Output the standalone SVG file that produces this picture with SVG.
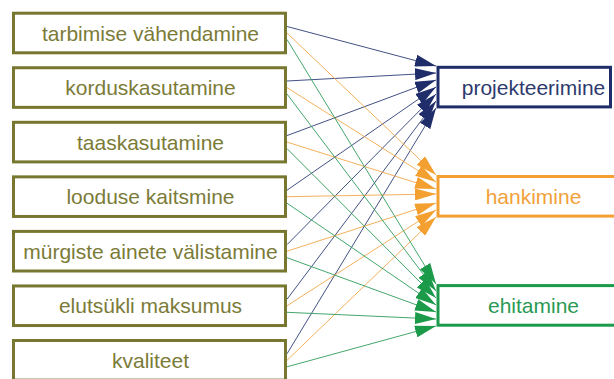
<svg xmlns="http://www.w3.org/2000/svg" width="614" height="379" viewBox="0 0 614 379">
  <style>
    .src rect { fill: #ffffff; stroke: #77772f; stroke-width: 3; }
    .src text { fill: #7b7b38; }
    text { font-family: "Liberation Sans", Arial, sans-serif; font-size: 21px; text-anchor: middle; }
    #projekteerimine rect { fill: #ffffff; stroke: #1f2d6b; stroke-width: 3; }
    #projekteerimine text { fill: #2e3a6e; }
    #hankimine rect { fill: #ffffff; stroke: #f4a030; stroke-width: 3; }
    #hankimine text { fill: #f2a13a; }
    #ehitamine rect { fill: #ffffff; stroke: #1b9a4a; stroke-width: 3; }
    #ehitamine text { fill: #2a9a55; }
    .c-navy { stroke: #2f3d76; stroke-width: 0.9; fill: none; marker-end: url(#ah-navy); }
    .c-orange { stroke: #f2a84c; stroke-width: 0.9; fill: none; marker-end: url(#ah-orange); }
    .c-green { stroke: #2f9c5c; stroke-width: 0.9; fill: none; marker-end: url(#ah-green); }
  </style>
  <defs>
    <marker id="ah-navy" markerUnits="userSpaceOnUse" markerWidth="22" markerHeight="12" refX="21" refY="6" orient="auto">
      <path d="M0,0 L21,6 L0,12 z" fill="#1f2d6b"/>
    </marker>
    <marker id="ah-orange" markerUnits="userSpaceOnUse" markerWidth="22" markerHeight="12" refX="21" refY="6" orient="auto">
      <path d="M0,0 L21,6 L0,12 z" fill="#f4a030"/>
    </marker>
    <marker id="ah-green" markerUnits="userSpaceOnUse" markerWidth="22" markerHeight="12" refX="21" refY="6" orient="auto">
      <path d="M0,0 L21,6 L0,12 z" fill="#1b9a4a"/>
    </marker>
  </defs>

  <!-- connectors: every criterion feeds every phase -->
  <g id="connectors">
    <!-- to projekteerimine -->
    <line class="c-navy" x1="287" y1="26.5" x2="436" y2="66"/>
    <line class="c-navy" x1="287" y1="81" x2="436" y2="73"/>
    <line class="c-navy" x1="287" y1="135.6" x2="436" y2="80"/>
    <line class="c-navy" x1="287" y1="190.2" x2="436" y2="87"/>
    <line class="c-navy" x1="287" y1="244.7" x2="436" y2="94"/>
    <line class="c-navy" x1="287" y1="299.3" x2="436" y2="101"/>
    <line class="c-navy" x1="287" y1="353.8" x2="436" y2="108"/>
    <!-- to hankimine -->
    <line class="c-orange" x1="287" y1="33" x2="436" y2="175"/>
    <line class="c-orange" x1="287" y1="87.6" x2="436" y2="182"/>
    <line class="c-orange" x1="287" y1="142.1" x2="436" y2="189"/>
    <line class="c-orange" x1="287" y1="196.7" x2="436" y2="194"/>
    <line class="c-orange" x1="287" y1="251.2" x2="436" y2="203"/>
    <line class="c-orange" x1="287" y1="305.8" x2="436" y2="210"/>
    <line class="c-orange" x1="287" y1="360.3" x2="436" y2="217"/>
    <!-- to ehitamine -->
    <line class="c-green" x1="287" y1="39.5" x2="436" y2="284"/>
    <line class="c-green" x1="287" y1="94" x2="436" y2="291"/>
    <line class="c-green" x1="287" y1="148.6" x2="436" y2="298"/>
    <line class="c-green" x1="287" y1="203.2" x2="436" y2="305"/>
    <line class="c-green" x1="287" y1="257.7" x2="436" y2="312"/>
    <line class="c-green" x1="287" y1="312.3" x2="436" y2="319"/>
    <line class="c-green" x1="287" y1="366.8" x2="436" y2="326"/>
  </g>

  <!-- criteria -->
  <g id="tarbimise-vahendamine" class="src">
    <rect x="13.5" y="13.2" width="272" height="39.6"/>
    <text x="150.5" y="40.5">tarbimise vähendamine</text>
  </g>
  <g id="korduskasutamine" class="src">
    <rect x="13.5" y="67.75" width="272" height="39.6"/>
    <text x="150.5" y="95">korduskasutamine</text>
  </g>
  <g id="taaskasutamine" class="src">
    <rect x="13.5" y="122.3" width="272" height="39.6"/>
    <text x="150.5" y="149.6">taaskasutamine</text>
  </g>
  <g id="looduse-kaitsmine" class="src">
    <rect x="13.5" y="176.85" width="272" height="39.6"/>
    <text x="150.5" y="204.2">looduse kaitsmine</text>
  </g>
  <g id="murgiste-ainete-valistamine" class="src">
    <rect x="13.5" y="231.4" width="272" height="39.6"/>
    <text x="150.5" y="258.7">mürgiste ainete välistamine</text>
  </g>
  <g id="elutsukli-maksumus" class="src">
    <rect x="13.5" y="285.95" width="272" height="39.6"/>
    <text x="150.5" y="313.3">elutsükli maksumus</text>
  </g>
  <g id="kvaliteet" class="src">
    <rect x="13.5" y="340.5" width="272" height="39.6"/>
    <text x="150.5" y="367.8">kvaliteet</text>
  </g>

  <!-- phases -->
  <g id="projekteerimine">
    <rect x="438" y="67.3" width="172.5" height="39.6"/>
    <text x="533.5" y="95">projekteerimine</text>
  </g>
  <g id="hankimine">
    <rect x="438" y="176.5" width="190" height="39.6"/>
    <text x="533.5" y="204">hankimine</text>
  </g>
  <g id="ehitamine">
    <rect x="438" y="285.6" width="190" height="39.6"/>
    <text x="533.5" y="313">ehitamine</text>
  </g>
</svg>
